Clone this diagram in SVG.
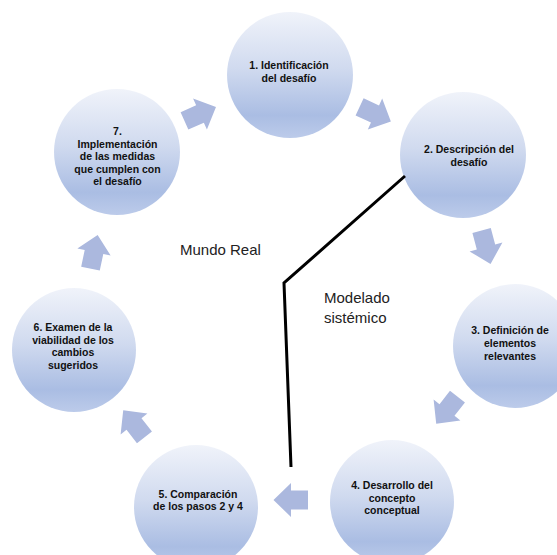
<svg xmlns="http://www.w3.org/2000/svg" xmlns:xlink="http://www.w3.org/1999/xlink" width="557" height="555" viewBox="0 0 557 555">
  <style>
    .node { fill: url(#ball); }
    .t { font-family: "Liberation Sans", Arial, sans-serif; font-size: 10.5px; font-weight: bold; fill: #111; text-anchor: middle; }
    .lbl { font-family: "Liberation Sans", Arial, sans-serif; font-size: 15px; fill: #222; }
    .step { fill: #abb8de; }
    .divider { fill: none; stroke: #000; stroke-width: 3; stroke-linejoin: miter; }
  </style>
  <defs>
    <linearGradient id="ball" x1="0" y1="0" x2="0" y2="1">
      <stop offset="0" stop-color="#f0f3fa"/>
      <stop offset="0.45" stop-color="#d0daef"/>
      <stop offset="0.82" stop-color="#aabde3"/>
      <stop offset="1" stop-color="#bccbea"/>
    </linearGradient>
    <!-- block arrow pointing along +x, centred on the origin -->
    <path id="step" d="M-17,-9.5 H0 V-17 L17.5,0 L0,17 V9.5 H-17 Z"/>
  </defs>

  <rect width="557" height="555" fill="#fff"/>

  <g id="connectors">
    <use xlink:href="#step" class="step" transform="translate(200 114) rotate(-24)"/>
    <use xlink:href="#step" class="step" transform="translate(375 114) rotate(25)"/>
    <use xlink:href="#step" class="step" transform="translate(486 247) rotate(75)"/>
    <use xlink:href="#step" class="step" transform="translate(447 410) rotate(128)"/>
    <use xlink:href="#step" class="step" transform="translate(291 500) rotate(180)"/>
    <use xlink:href="#step" class="step" transform="translate(134 424) rotate(-128)"/>
    <use xlink:href="#step" class="step" transform="translate(94 252) rotate(-78)"/>
  </g>

  <g id="node1">
    <circle class="node" cx="290" cy="75" r="63"/>
    <text class="t" x="289" y="69">1. Identificación</text>
    <text class="t" x="289" y="82">del desafío</text>
  </g>
  <g id="node2">
    <circle class="node" cx="463" cy="155" r="63"/>
    <text class="t" x="469" y="153">2. Descripción del</text>
    <text class="t" x="469" y="166">desafío</text>
  </g>
  <g id="node3">
    <circle class="node" cx="515" cy="346" r="62"/>
    <text class="t" x="510" y="334">3. Definición de</text>
    <text class="t" x="510" y="347">elementos</text>
    <text class="t" x="510" y="360">relevantes</text>
  </g>
  <g id="node4">
    <circle class="node" cx="392" cy="502" r="62"/>
    <text class="t" x="392" y="489">4. Desarrollo del</text>
    <text class="t" x="392" y="501.5">concepto</text>
    <text class="t" x="392" y="514">conceptual</text>
  </g>
  <g id="node5">
    <circle class="node" cx="196" cy="507" r="62"/>
    <text class="t" x="198" y="498">5. Comparación</text>
    <text class="t" x="198" y="510">de los pasos 2 y 4</text>
  </g>
  <g id="node6">
    <circle class="node" cx="74" cy="350" r="62"/>
    <text class="t" x="73" y="331">6. Examen de la</text>
    <text class="t" x="73" y="343.5">viabilidad de los</text>
    <text class="t" x="73" y="356">cambios</text>
    <text class="t" x="73" y="368.5">sugeridos</text>
  </g>
  <g id="node7">
    <circle class="node" cx="117" cy="152" r="63"/>
    <text class="t" x="117.5" y="135">7.</text>
    <text class="t" x="117.5" y="147.5">Implementación</text>
    <text class="t" x="117.5" y="160">de las medidas</text>
    <text class="t" x="117.5" y="172.5">que cumplen con</text>
    <text class="t" x="117.5" y="185">el desafío</text>
  </g>

  <g id="boundary">
    <polyline class="divider" points="405,176 284,283 291,467"/>
    <text class="lbl" x="180" y="255">Mundo Real</text>
    <text class="lbl" x="324" y="303">Modelado</text>
    <text class="lbl" x="324" y="323">sistémico</text>
  </g>
</svg>
